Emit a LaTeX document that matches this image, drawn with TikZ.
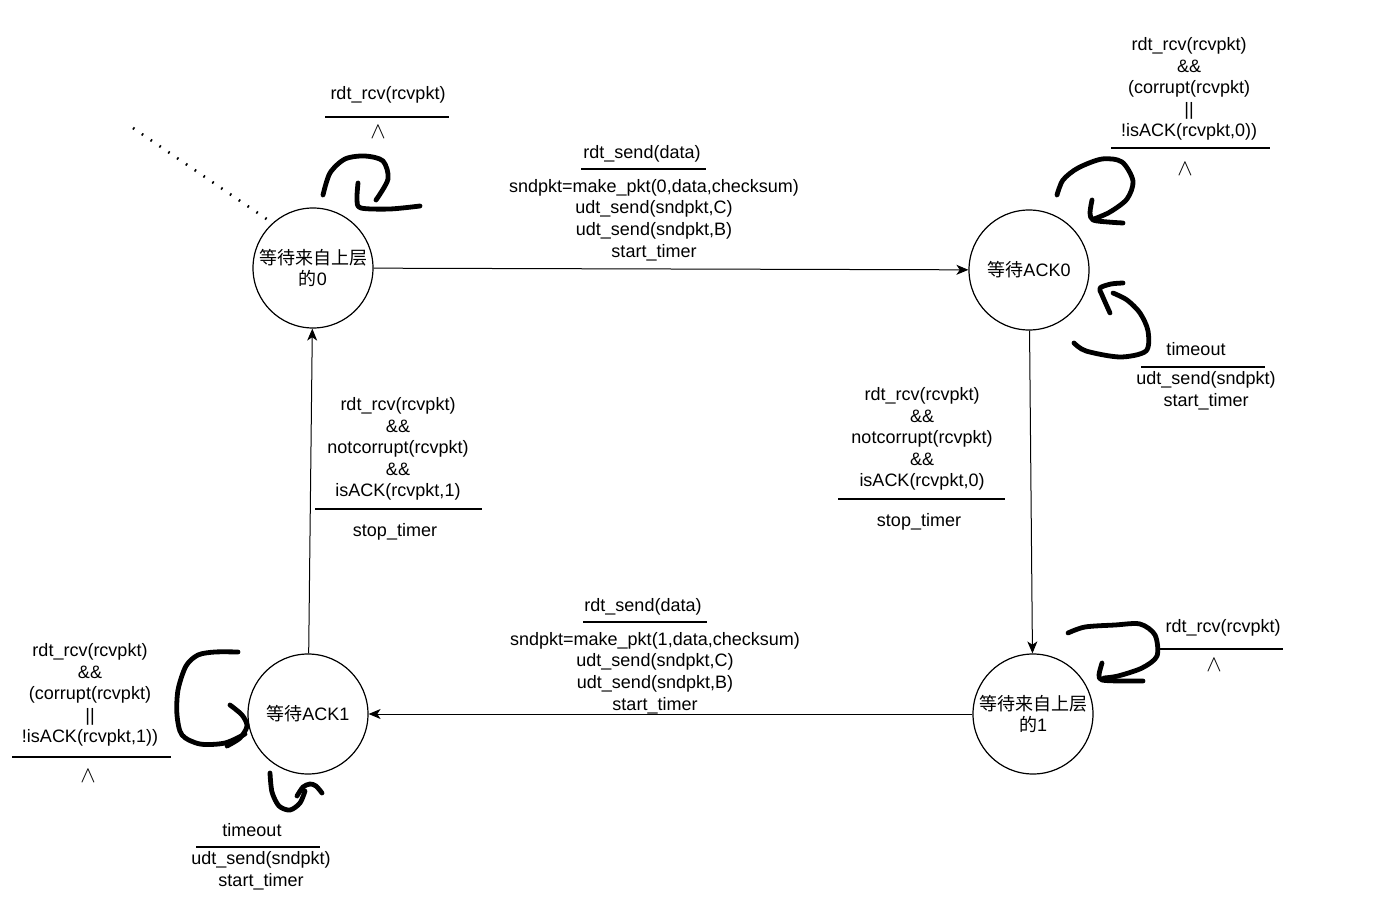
\documentclass[tikz,border=0pt]{standalone}
\usepackage{fontspec}
\setmainfont{Liberation Sans}
\newfontfamily\cjkfont{Noto Sans CJK SC}
\newcommand{\zh}[1]{{\cjkfont #1}}
\usetikzlibrary{arrows.meta}
\tikzset{
  state/.style={draw, circle, line width=0.9pt, minimum size=90pt, inner sep=0pt, align=center, font=\fontsize{13.5}{16.2}\selectfont},
  flowarrow/.style={-{Stealth[length=9pt, width=7.5pt, inset=2.5pt]}, line width=0.75pt},
  guard/.style={align=center, inner sep=0pt, font=\fontsize{13.5}{16.2}\selectfont},
  nop/.style={inner sep=0pt, font=\fontsize{19}{19}\selectfont},
  bar/.style={line width=2.2pt},
  handloop/.style={line width=3.6pt, line cap=round, line join=round}
}

\begin{document}
\begin{tikzpicture}[x=0.75pt, y=-0.75pt]
  \useasboundingbox (0,0) rectangle (1375,913);

  % states
  \node[state] (wait0) at (313,268) {\zh{等待来自上层}\\\zh{的}0};
  \node[state] (ack0) at (1029,270) {\zh{等待}ACK0};
  \node[state] (wait1) at (1033,714) {\zh{等待来自上层}\\\zh{的}1};
  \node[state] (ack1) at (308,714) {\zh{等待}ACK1};

  % initial state
  \coordinate (init) at (133,128);
  \draw[line width=2pt, dash pattern=on 1.2pt off 6.8pt] (init) -- (wait0.132);

  % transitions
  \draw[flowarrow] (wait0) -- (ack0);
  \draw[flowarrow] (ack0) -- (wait1);
  \draw[flowarrow] (wait1) -- (ack1);
  \draw[flowarrow] (ack1) -- (wait0);

  % labels on the transitions
  \node[guard] (sendev0) at (642,154) {rdt\_send(data)};
  \draw[bar] (581,169) -- (706,169);
  \node[guard] (sendact0) at (654,220) {sndpkt=make\_pkt(0,data,checksum)\\udt\_send(sndpkt,C)\\udt\_send(sndpkt,B)\\start\_timer};

  \node[guard] (sendev1) at (643,607) {rdt\_send(data)};
  \draw[bar] (583,622) -- (707,622);
  \node[guard] (sendact1) at (655,673) {sndpkt=make\_pkt(1,data,checksum)\\udt\_send(sndpkt,C)\\udt\_send(sndpkt,B)\\start\_timer};

  \node[guard] (okack1) at (398,449) {rdt\_rcv(rcvpkt)\\\&\&\\notcorrupt(rcvpkt)\\\&\&\\isACK(rcvpkt,1)};
  \draw[bar] (315,509) -- (482,509);
  \node[guard] (stop1) at (395,532) {stop\_timer};

  \node[guard] (okack0) at (922,439) {rdt\_rcv(rcvpkt)\\\&\&\\notcorrupt(rcvpkt)\\\&\&\\isACK(rcvpkt,0)};
  \draw[bar] (838,499) -- (1005,499);
  \node[guard] (stop0) at (919,522) {stop\_timer};

  % self loops
  \draw[handloop] plot[smooth] coordinates {(323,195) (330,173) (345,159) (365,156) (383,161) (388,179) (376,200)};
  \draw[handloop] plot[smooth] coordinates {(358,183) (357,200) (361,208) (390,209) (420,206)};
  \node[guard] (rcv0) at (388,95) {rdt\_rcv(rcvpkt)};
  \draw[bar] (325,117) -- (449,117);
  \node[nop] (nop0) at (378,132) {$\wedge$};

  \draw[handloop] plot[smooth] coordinates {(1057,195) (1063,180) (1078,168) (1102,159) (1122,162) (1133,181) (1127,199) (1110,212) (1094,219)};
  \draw[handloop] plot[smooth] coordinates {(1092,200) (1090,213) (1093,220) (1108,222) (1123,223)};
  \node[guard] (badack0) at (1189,89) {rdt\_rcv(rcvpkt)\\\&\&\\(corrupt(rcvpkt)\\||\\!isACK(rcvpkt,0))};
  \draw[bar] (1111,148) -- (1270,148);
  \node[nop] (nop1) at (1185,169) {$\wedge$};

  \draw[handloop] plot[smooth] coordinates {(1074,343) (1086,351) (1120,357) (1146,351) (1148,331) (1140,313) (1127,300) (1113,293)};
  \draw[handloop] plot[smooth] coordinates {(1110,313) (1102,295) (1100,288) (1111,284) (1123,283)};
  \node[guard] (tout0) at (1196,349) {timeout};
  \draw[bar] (1141,367) -- (1265,367);
  \node[guard] (resend0) at (1206,391) {udt\_send(sndpkt)\\start\_timer};

  \draw[handloop] plot[smooth] coordinates {(1068,633) (1085,627) (1115,625) (1140,624) (1155,635) (1157,656) (1142,668) (1118,676) (1104,678)};
  \draw[handloop] plot[smooth] coordinates {(1102,663) (1099,675) (1102,680) (1120,681) (1143,681)};
  \node[guard] (rcv1) at (1223,628) {rdt\_rcv(rcvpkt)};
  \draw[bar] (1160,649) -- (1283,649);
  \node[nop] (nop2) at (1214,665) {$\wedge$};

  \draw[handloop] plot[smooth] coordinates {(238,652) (215,652) (198,655) (186,666) (178,690) (177,715) (182,735) (200,744) (225,743) (245,734)};
  \draw[handloop] plot[smooth] coordinates {(230,705) (242,715) (247,726) (240,738) (227,746)};
  \node[guard] (badack1) at (90,695) {rdt\_rcv(rcvpkt)\\\&\&\\(corrupt(rcvpkt)\\||\\!isACK(rcvpkt,1))};
  \draw[bar] (12,757) -- (171,757);
  \node[nop] (nop3) at (88,776) {$\wedge$};

  \draw[handloop] plot[smooth] coordinates {(270,773) (272,792) (279,806) (290,810) (300,803) (305,791)};
  \draw[handloop] plot[smooth] coordinates {(297,796) (303,787) (310,784) (316,786) (322,793)};
  \node[guard] (tout1) at (252,830) {timeout};
  \draw[bar] (196,847) -- (320,847);
  \node[guard] (resend1) at (261,871) {udt\_send(sndpkt)\\start\_timer};
\end{tikzpicture}
\end{document}
